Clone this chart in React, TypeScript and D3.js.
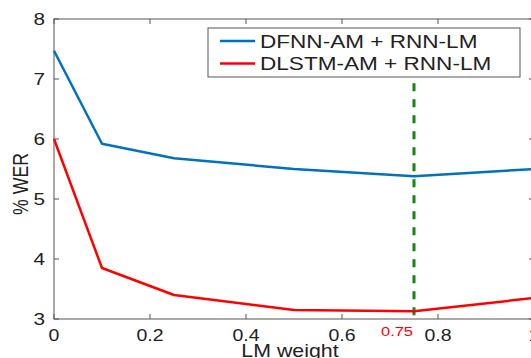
import React, { useRef, useEffect } from 'react';
import * as d3 from 'd3';

const lmWeights = [0, 0.1, 0.25, 0.5, 0.75, 1.0];
const dfnnWer = [7.47, 5.92, 5.68, 5.5, 5.38, 5.5];
const dlstmWer = [6.0, 3.85, 3.4, 3.15, 3.13, 3.35];
const seriesNames = ['DFNN-AM + RNN-LM', 'DLSTM-AM + RNN-LM'];
const seriesColors = ['#0072BD', '#FF0000'];
const xTicks = [0, 0.2, 0.4, 0.6, 0.8, 1];
const yTicks = [3, 4, 5, 6, 7, 8];
const bestWeight = 0.75;

export default function App() {
  const svgRef = useRef<SVGSVGElement>(null);

  useEffect(() => {
    const svg = d3.select(svgRef.current);
    svg.selectAll('*').remove();

    const width = 531;
    const height = 358;
    const margin = { top: 19, left: 54 };
    const innerWidth = 480;
    const innerHeight = 300;
    const font = 'Liberation Sans, Arial, sans-serif';
    const axisColor = '#555';
    const stretch = 1.22; // the picture's text is wider than plain Arial

    const x = d3.scaleLinear().domain([0, 1]).range([0, innerWidth]);
    const y = d3.scaleLinear().domain([3, 8]).range([innerHeight, 0]);

    svg.attr('width', width).attr('height', height);

    // text drawn in screen coords, stretched horizontally
    const label = (tx: number, ty: number, txt: string, size: number, anchor = 'middle', fill = '#222', rotate = 0) =>
      svg.append('text')
        .attr('transform', `translate(${tx},${ty}) scale(${stretch},1) rotate(${rotate})`)
        .attr('text-anchor', anchor)
        .attr('font-family', font)
        .attr('font-size', size)
        .attr('fill', fill)
        .text(txt);

    const g = svg.append('g').attr('transform', `translate(${margin.left},${margin.top})`);

    // box
    g.append('rect')
      .attr('width', innerWidth)
      .attr('height', innerHeight)
      .attr('fill', 'none')
      .attr('stroke', axisColor)
      .attr('stroke-width', 1);

    // ticks pointing inward on all four sides
    xTicks.forEach(t => {
      g.append('line').attr('x1', x(t)).attr('x2', x(t)).attr('y1', innerHeight).attr('y2', innerHeight - 5).attr('stroke', axisColor);
      g.append('line').attr('x1', x(t)).attr('x2', x(t)).attr('y1', 0).attr('y2', 5).attr('stroke', axisColor);
    });
    yTicks.forEach(t => {
      g.append('line').attr('x1', 0).attr('x2', 5).attr('y1', y(t)).attr('y2', y(t)).attr('stroke', axisColor);
      g.append('line').attr('x1', innerWidth).attr('x2', innerWidth - 5).attr('y1', y(t)).attr('y2', y(t)).attr('stroke', axisColor);
    });

    // tick labels
    xTicks.forEach(t => label(margin.left + x(t), margin.top + innerHeight + 22, d3.format('')(t), 16));
    yTicks.forEach(t => label(margin.left - 9, margin.top + y(t) + 6, String(t), 17, 'end'));

    // best weight marker
    g.append('line')
      .attr('x1', x(bestWeight))
      .attr('x2', x(bestWeight))
      .attr('y1', y(6.93))
      .attr('y2', innerHeight)
      .attr('stroke', '#118811')
      .attr('stroke-width', 3)
      .attr('stroke-dasharray', '8,8');

    label(margin.left + x(bestWeight) - 17, margin.top + innerHeight + 17, String(bestWeight), 13.5, 'middle', '#FF0000');

    const line = d3.line<number>()
      .x((_, i) => x(lmWeights[i]))
      .y(d => y(d));

    [dfnnWer, dlstmWer].forEach((vals, i) => {
      g.append('path')
        .datum(vals)
        .attr('d', line)
        .attr('fill', 'none')
        .attr('stroke', seriesColors[i])
        .attr('stroke-width', 2.5)
        .attr('stroke-linejoin', 'round');
    });

    // axis titles
    label(290, 357, 'LM weight', 17.5);

    svg.append('text')
      .attr('transform', 'translate(27,184) scale(1,1) rotate(-90)')
      .attr('text-anchor', 'middle')
      .attr('font-family', font)
      .attr('font-size', 17.7)
      .attr('fill', '#222')
      .attr('transform', `translate(27.5,184) scale(${stretch},1) rotate(-90)`)
      .text('% WER');

    // legend
    const lg = svg.append('g').attr('transform', 'translate(208,28)');
    lg.append('rect')
      .attr('width', 312)
      .attr('height', 49)
      .attr('fill', '#fff')
      .attr('stroke', axisColor)
      .attr('stroke-width', 1);
    seriesNames.forEach((name, i) => {
      const ly = 13 + i * 22.5;
      lg.append('line')
        .attr('x1', 12).attr('x2', 47)
        .attr('y1', ly).attr('y2', ly)
        .attr('stroke', seriesColors[i])
        .attr('stroke-width', 2.5);
      label(208 + 52, 28 + ly + 6.5, name, 18.5, 'start');
    });
  }, []);

  return <svg ref={svgRef} style={{ position: 'absolute', left: 0, top: 0 }} />;
}
